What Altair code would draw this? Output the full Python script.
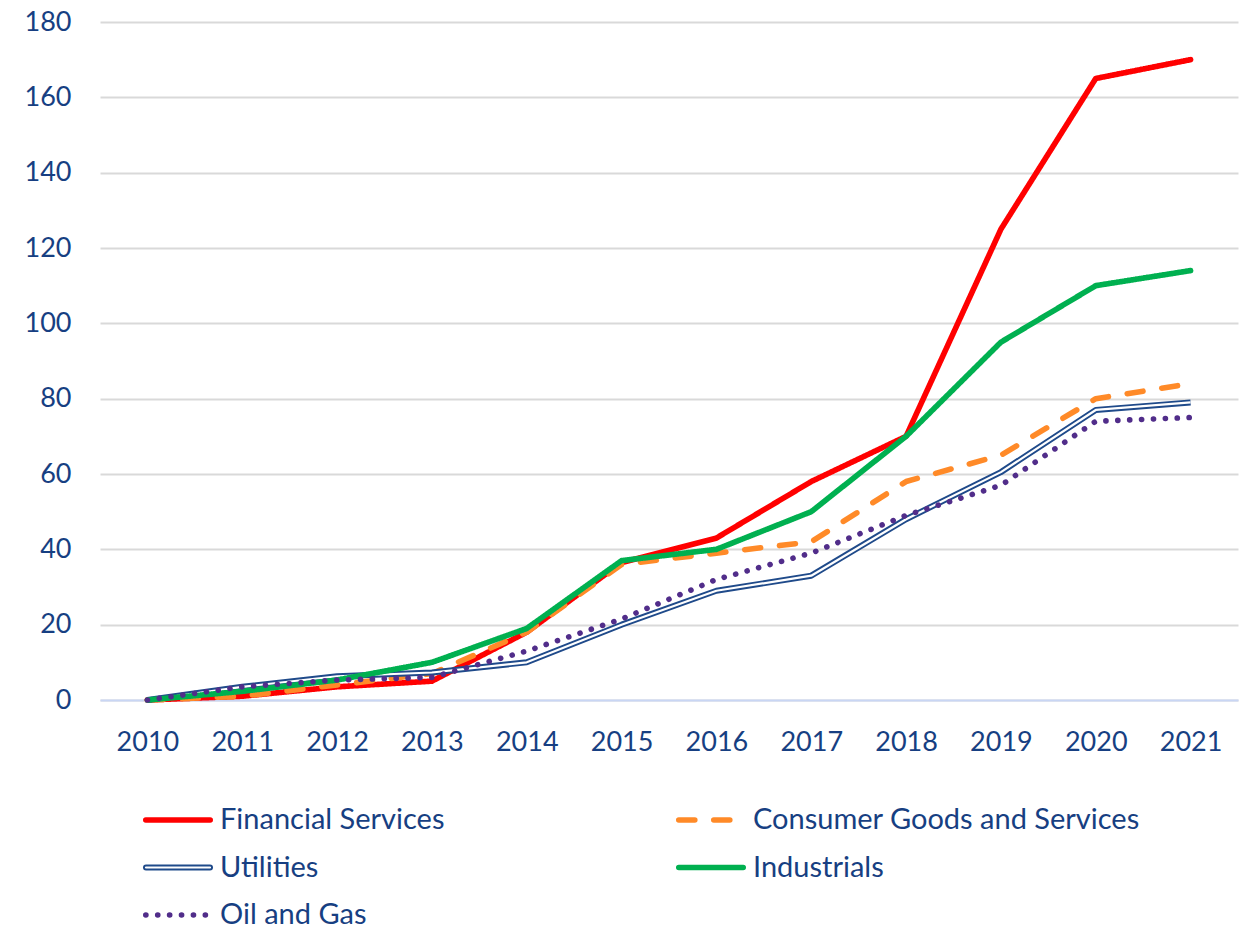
import altair as alt
import pandas as pd

years = [str(y) for y in range(2010, 2022)]
series_names = ["Financial Services", "Consumer Goods and Services", "Utilities",
                "Industrials", "Oil and Gas"]
financial = [0, 1, 3.5, 5, 18, 36.5, 43, 58, 70, 125, 165, 170]
consumer = [0, 1, 4, 7, 18, 36, 39, 42, 58, 65, 80, 84]
utilities = [0, 3.5, 6.3, 7.3, 10, 20, 29, 33, 48, 60.5, 77, 79]
industrials = [0, 2.3, 5.3, 10, 19, 37, 40, 50, 70, 95, 110, 114]
oil_gas = [0, 3.5, 5.3, 6, 13, 21.5, 32, 39, 49, 57, 74, 75]
y_ticks = [0, 20, 40, 60, 80, 100, 120, 140, 160, 180]

# legend layout (column / row of each entry)
legend_col = [0, 1, 0, 1, 0]
legend_row = [0, 0, 1, 1, 2]

colors = ["#FF0000", "#FF8A28", "#1F4A8A", "#00B050", "#512D8A"]
dashes = [[1, 0], [16, 19], [1, 0], [1, 0], [0.1, 11.8]]
text_color = "#173F82"
font = "Lato"

values = [financial, consumer, utilities, industrials, oil_gas]
rows = []
for name, vals in zip(series_names, values):
    for yr, v in zip(years, vals):
        rows.append({"year": yr, "value": v, "series": name})
df = pd.DataFrame(rows)

leg = pd.DataFrame({"series": series_names, "lx": legend_col, "ly": legend_row})

color_scale = alt.Scale(domain=series_names, range=colors)
dash_scale = alt.Scale(domain=series_names, range=dashes)

x_enc = alt.X("year:O", scale=alt.Scale(paddingOuter=0.5),
              axis=alt.Axis(title=None, labelAngle=0, ticks=False, domain=True,
                            domainColor="#C9D6F4", domainWidth=2, grid=False,
                            labelPadding=29, labelFontSize=27, labelColor=text_color,
                            labelFont=font))
y_enc = alt.Y("value:Q", scale=alt.Scale(domain=[0, 180], nice=False),
              axis=alt.Axis(title=None, values=y_ticks, ticks=False, domain=False,
                            grid=True, gridColor="#D9D9D9", gridWidth=2,
                            labelPadding=29, labelFontSize=27, labelColor=text_color,
                            labelFont=font))

layers = []
for name in series_names:
    base = alt.Chart(df).transform_filter(alt.datum.series == name)
    if name == "Utilities":
        layers.append(base.mark_line(strokeWidth=6, strokeJoin="round").encode(
            x=x_enc, y=y_enc,
            color=alt.Color("series:N", scale=color_scale, legend=None)))
        layers.append(base.mark_line(strokeWidth=2.2, color="white", strokeJoin="round").encode(
            x=x_enc, y=y_enc))
    else:
        layers.append(base.mark_line(strokeWidth=5.6, strokeCap="round", strokeJoin="round").encode(
            x=x_enc, y=y_enc,
            color=alt.Color("series:N", scale=color_scale, legend=None),
            strokeDash=alt.StrokeDash("series:N", scale=dash_scale, legend=None)))
plot = alt.layer(*layers)

lx = alt.X("lx:Q", scale=alt.Scale(domain=[0, 1], range=[43, 576]), axis=None)
ly = alt.Y("ly:Q", scale=alt.Scale(domain=[0, 2], range=[798, 893]), axis=None)

leg_base = alt.Chart(leg)
leg_lines = leg_base.transform_filter(alt.datum.series != "Utilities").mark_rule(
    strokeWidth=5.6, strokeCap="round", xOffset=2.8, x2Offset=67.2).encode(
    x=lx, x2=alt.X2("lx"), y=ly,
    color=alt.Color("series:N", scale=color_scale, legend=None),
    strokeDash=alt.StrokeDash("series:N", scale=dash_scale, legend=None))
leg_util = leg_base.transform_filter(alt.datum.series == "Utilities").mark_rule(
    strokeWidth=6, strokeCap="round", xOffset=3, x2Offset=67).encode(
    x=lx, x2=alt.X2("lx"), y=ly,
    color=alt.Color("series:N", scale=color_scale, legend=None))
leg_util_in = leg_base.transform_filter(alt.datum.series == "Utilities").mark_rule(
    strokeWidth=2.2, color="white", strokeCap="round", xOffset=3, x2Offset=67).encode(
    x=lx, x2=alt.X2("lx"), y=ly)
leg_text = leg_base.mark_text(align="left", baseline="middle", dx=77, fontSize=29,
                              font=font, color=text_color).encode(
    x=lx, y=ly, text="series:N")
legend_layer = alt.layer(leg_lines, leg_util, leg_util_in, leg_text)

chart = alt.layer(plot, legend_layer).resolve_scale(
    x="independent", y="independent"
).properties(
    width=1138, height=678,
    autosize=alt.AutoSizeParams(type="none"),
    padding={"left": 92, "top": 14, "right": 2, "bottom": 228},
).configure_view(stroke=None)

chart.save("out.html", embed_options={"renderer": "svg", "actions": False})
